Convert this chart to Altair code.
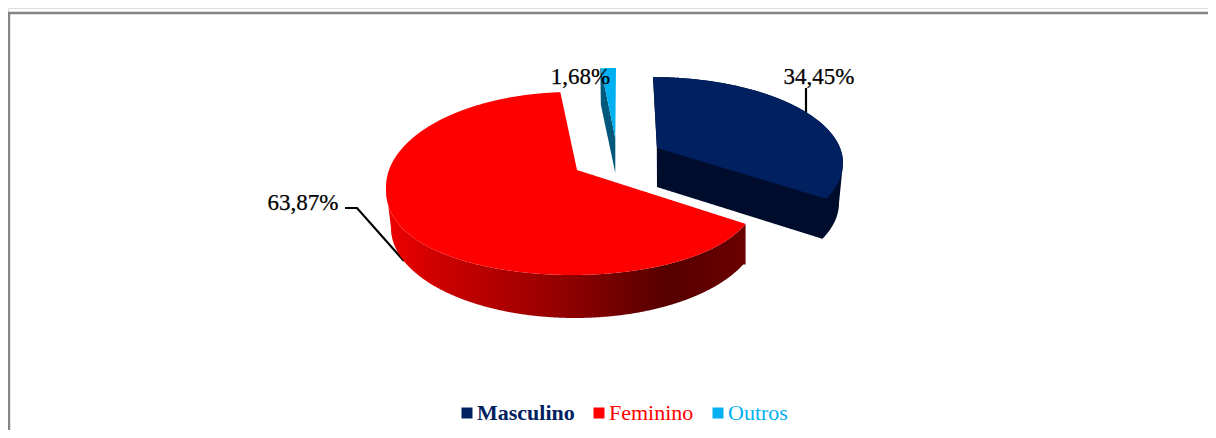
import numpy as np
import pandas as pd
import altair as alt

categories = ["Masculino", "Feminino", "Outros"]
shares = [34.45, 63.87, 1.68]
share_labels = ["34,45%", "63,87%", "1,68%"]
colors = ["#002060", "#FF0000", "#00B0F0"]
wall_colors = ["#000C2B", None, "#00587A"]

SERIF = "Liberation Serif"
W, H = 1200, 422
xs = alt.Scale(domain=[8, 1208], nice=False, zero=False)
ys = alt.Scale(domain=[430, 8], nice=False, zero=False)


def pt(e, deg, p=1.0):
    cx, cy, a, bu, bl = e
    t = np.radians(deg)
    s = np.sin(t)
    if s > 0:
        return (cx + a * np.cos(t), cy - bu * s)
    return (cx + a * np.cos(t), cy + bl * abs(s) ** p)


def arc(e, t0, t1, n=160, p=1.0):
    return [pt(e, d, p) for d in np.linspace(t0, t1, n)]


def band(upper, lower):
    ux, uy = zip(*upper)
    lx, ly = zip(*lower)
    grid = np.union1d(np.arange(min(ux + lx), max(ux + lx), 1.0), list(ux) + list(lx))
    return pd.DataFrame({"x": grid, "y": np.interp(grid, ux, uy), "y2": np.interp(grid, lx, ly)})


# Feminino
e_f = (572, 187, 186, 95, 88)
f_p = 0.85
f_start = 93.6
f_end = f_start + shares[1] * 3.6 * 1.067
f_apex = (577, 170)
f_upper = arc(e_f, 180, f_start) + [f_apex, pt(e_f, f_end, f_p)]
f_lower = arc(e_f, 180, f_end, p=f_p)
e_fb = (575, 228, 184, 90, 90)
f_wall_lower = [pt(e_f, 180), (391, 228)] + arc(e_fb, 180.5, 336)

# Masculino
e_m = (652, 163, 191, 86, 88)
m_start = 89.7
m_end = m_start - shares[0] * 3.6 * 0.917
m_apex = (657, 148)
m_corner = pt(e_m, m_end)
m_upper = arc(e_m, m_start, 0)
m_lower = [pt(e_m, m_start), m_apex, m_corner] + arc(e_m, m_end + 0.2, 0)
e_mb = (648, 203, 191, 86, 88)
m_wall_lower = [pt(e_m, m_start), (656.8, 148), (657, 187)] + arc(e_mb, m_end, 0) + [pt(e_m, 0)]

# Outros
e_o = (615, 158, 186, 90, 90)
o_right = 89.7
o_left = o_right + shares[2] * 3.6 * 0.77
o_apex = (615.3, 138)
o_upper = arc(e_o, o_left, o_right, 12)
o_lower = [pt(e_o, o_left), o_apex, pt(e_o, o_right)]
o_wall_lower = [pt(e_o, o_left), (600.3, 102), (615.3, 173)]

enc = dict(
    x=alt.X("x:Q", scale=xs, axis=None),
    y=alt.Y("y:Q", scale=ys, axis=None),
    y2="y2:Q",
)

legend = alt.Legend(
    title=None,
    orient="none",
    legendX=448,
    legendY=394,
    direction="horizontal",
    columns=3,
    symbolType="square",
    symbolSize=121,
    symbolStrokeWidth=0,
    labelFont=SERIF,
    labelFontSize=22,
    labelOffset=alt.expr("-1"),
    columnPadding=13,
    padding=0,
    labelColor=alt.expr(
        "datum.label == 'Masculino' ? '#002060' : datum.label == 'Feminino' ? '#FF0000' : '#00B0F0'"
    ),
    labelFontWeight=alt.expr("datum.label == 'Masculino' ? 'bold' : 'normal'"),
)
color_enc = alt.Color(
    "serie:N",
    scale=alt.Scale(domain=categories, range=colors),
    sort=categories,
    legend=legend,
)


def wall(df, fill):
    return alt.Chart(df).mark_area(color=fill, interpolate="linear").encode(**enc)


def face(df, name):
    return (
        alt.Chart(df.assign(serie=name))
        .mark_area(interpolate="linear")
        .encode(color=color_enc, **enc)
    )


red_gradient = alt.Gradient(
    gradient="linear",
    x1=0, x2=1, y1=0, y2=0,
    stops=[
        alt.GradientStop(offset=0.0, color="#F00000"),
        alt.GradientStop(offset=0.15, color="#CC0000"),
        alt.GradientStop(offset=0.5, color="#900000"),
        alt.GradientStop(offset=0.78, color="#560000"),
        alt.GradientStop(offset=1.0, color="#6A0000"),
    ],
)


def path(points):
    return pd.DataFrame(
        [{"x": p[0], "y": p[1], "i": i} for i, p in enumerate(points)]
    )


def polyline(points, stroke, width):
    return (
        alt.Chart(path(points))
        .mark_line(color=stroke, strokeWidth=width, interpolate="linear")
        .encode(
            x=alt.X("x:Q", scale=xs, axis=None),
            y=alt.Y("y:Q", scale=ys, axis=None),
            order="i:Q",
        )
    )


labels = pd.DataFrame(
    {"x": [819, 303, 580.5], "y": [84, 210, 84], "t": share_labels}
)
text = (
    alt.Chart(labels)
    .mark_text(font=SERIF, fontSize=23, color="black", stroke="black", strokeWidth=0.25,
               align="center", baseline="alphabetic")
    .encode(
        x=alt.X("x:Q", scale=xs, axis=None),
        y=alt.Y("y:Q", scale=ys, axis=None),
        text="t:N",
    )
)

chart = (
    alt.layer(
        polyline([(9, 430), (9, 13), (1208, 13)], "#858585", 2.4),
        polyline([(345, 208), (357, 208), (404, 261)], "black", 2.2),
        polyline([(806, 88), (806, 113)], "black", 2.2),
        wall(band(f_lower, f_wall_lower), red_gradient),
        face(band(f_upper, f_lower), categories[1]),
        wall(band(m_upper, m_wall_lower), wall_colors[0]),
        face(band(m_upper, m_lower), categories[0]),
        wall(band(o_lower[:2], o_wall_lower), wall_colors[2]),
        face(band(o_upper, o_lower), categories[2]),
        text,
    )
    .properties(width=W, height=H, padding=0, autosize=alt.AutoSizeParams(type="none"))
    .configure_view(stroke=None)
    .configure(background="white")
)

chart.save("out.html", embed_options={"renderer": "svg", "actions": False})
